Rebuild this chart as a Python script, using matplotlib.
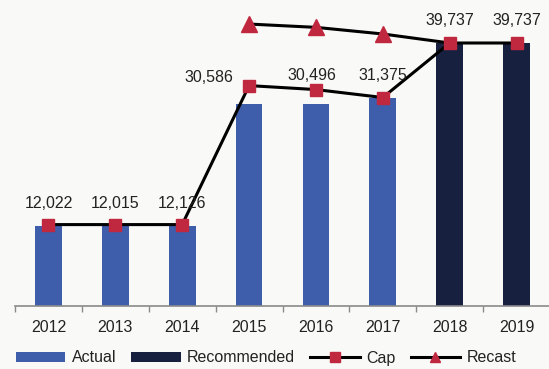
import matplotlib
matplotlib.use("Agg")
import matplotlib.pyplot as plt
from matplotlib.lines import Line2D
from matplotlib.patches import Patch
import numpy as np

plt.rcParams['font.family'] = ['Liberation Sans', 'DejaVu Sans']

years = ["2012", "2013", "2014", "2015", "2016", "2017", "2018", "2019"]
actual = [12022, 12015, 12126, 30586, 30496, 31375, None, None]
recommended = [None, None, None, None, None, None, 39737, 39737]
cap = [12300, 12300, 12300, 33300, 32700, 31500, 39737, 39737]
recast = [None, None, None, 42600, 42100, 41100, 39737, None]
value_labels = ["12,022", "12,015", "12,126", "30,586", "30,496", "31,375", "39,737", "39,737"]

BLUE = "#3E5DAA"
NAVY = "#17213F"
RED = "#C0283F"
TEXT = "#222222"
BG = "#F9F9F7"
FS = 11.5

fig = plt.figure(figsize=(5.49, 3.69), dpi=100, facecolor=BG)
ax = fig.add_axes([15 / 549, (369 - 306) / 369, 535 / 549, 306 / 369])
ax.set_facecolor(BG)

x = np.arange(len(years))
bw = 0.40
ax.bar([i for i, v in enumerate(actual) if v is not None],
       [v for v in actual if v is not None], width=bw, color=BLUE, zorder=2)
ax.bar([i for i, v in enumerate(recommended) if v is not None],
       [v for v in recommended if v is not None], width=bw, color=NAVY, zorder=2)

# Recast line: triangles only where a recast value exists before 2018
rx = [i for i, v in enumerate(recast) if v is not None]
ry = [v for v in recast if v is not None]
ax.plot(rx, ry, color="black", lw=2.2, zorder=3, clip_on=False)
ax.plot(rx[:-1], ry[:-1], ls="none", marker="^", ms=11, color=RED,
        mec=RED, zorder=4, clip_on=False)

ax.plot(x, cap, color="black", lw=2.2, marker="s", ms=8, mfc=RED, mec=RED,
        zorder=5, clip_on=False)

# Value labels (bar values) placed above the cap markers
offsets = [(0, 21), (0, 21), (0, 21), (-40, 8), (-4, 14), (0, 22), (0, 22), (0, 22)]
for i, (lab, (dx, dy)) in enumerate(zip(value_labels, offsets)):
    ax.annotate(lab, (x[i], cap[i]), xytext=(dx * 0.72, dy * 0.72),
                textcoords="offset points", ha="center", va="center",
                fontsize=FS, color=TEXT, zorder=6)

ax.set_xlim(-0.5, 7.5)
ax.set_ylim(0, 39737 / 263 * 306)
for s in ["top", "right", "left"]:
    ax.spines[s].set_visible(False)
ax.spines["bottom"].set_color("#8a8a8a")
ax.spines["bottom"].set_linewidth(1.2)
ax.set_yticks([])
ax.set_xticks(x)
ax.set_xticklabels(years, fontsize=FS, color=TEXT)
ax.tick_params(axis="x", which="major", length=0, pad=10)
ax.set_xticks(np.arange(-0.5, 8.0, 1.0), minor=True)
ax.tick_params(axis="x", which="minor", length=4, width=1, color="#8a8a8a",
               direction="out")

handles = [
    Patch(facecolor=BLUE, edgecolor="none", label="Actual"),
    Patch(facecolor=NAVY, edgecolor="none", label="Recommended"),
    Line2D([], [], color="black", lw=2.2, marker="s", ms=7, mfc=RED, mec=RED, label="Cap"),
    Line2D([], [], color="black", lw=2.2, marker="^", ms=7, mfc=RED, mec=RED, label="Recast"),
]
fig.legend(handles=handles, loc="center", bbox_to_anchor=(266 / 549, 1 - 358 / 369),
           ncol=4, frameon=False, fontsize=FS, handlelength=3.1,
           handleheight=0.6, handletextpad=0.4, columnspacing=0.95,
           labelcolor=TEXT, borderpad=0, borderaxespad=0)

fig.savefig("out.png", dpi=100, facecolor=BG)
